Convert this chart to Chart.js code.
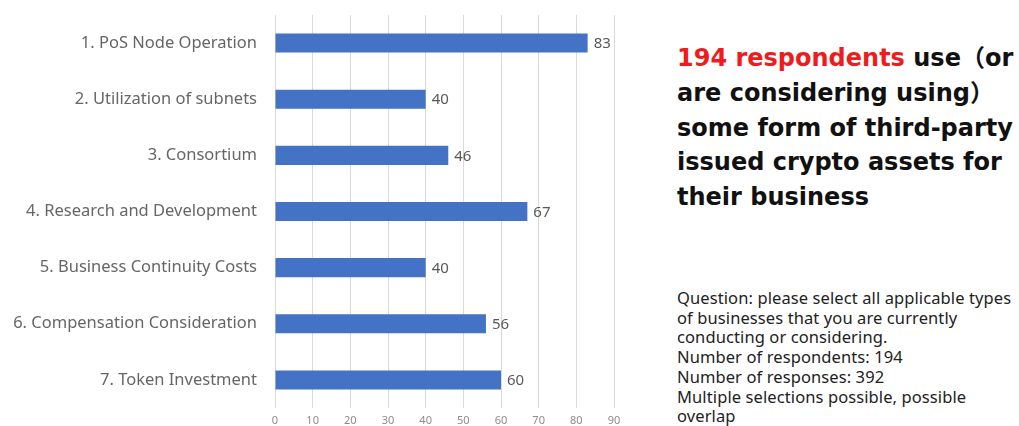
<!DOCTYPE html>
<html>
<head>
<meta charset="utf-8">
<script src="https://cdn.jsdelivr.net/npm/chart.js@4/dist/chart.umd.min.js"></script>
<style>
  html, body { margin: 0; padding: 0; background: #fff; }
  body { width: 1019px; height: 426px; position: relative; overflow: hidden; }
  #chartBox { position: absolute; left: 0; top: 0; width: 640px; height: 426px; }
  #headline {
    position: absolute; left: 677px; top: 41px; white-space: nowrap;
    font-family: "DejaVu Sans", "Noto Sans CJK JP", sans-serif; font-weight: 700;
    font-size: 24px; line-height: 34.8px; color: #111;
  }
  #headline .hl { color: #ee1c1c; }
  #note {
    position: absolute; left: 677px; top: 288px; white-space: nowrap;
    font-family: "Noto Sans", sans-serif; font-size: 16.5px; line-height: 19.7px;
    letter-spacing: 0.1px; color: #222;
  }
</style>
</head>
<body>
<div id="chartBox"><canvas id="bizChart"></canvas></div>
<div id="headline"><span class="hl">194 respondents</span> use（or<br>are considering using）<br>some form of third-party<br>issued crypto assets for<br>their business</div>
<div id="note">Question: please select all applicable types<br>of businesses that you are currently<br>conducting or considering.<br>Number of respondents: 194<br>Number of responses: 392<br>Multiple selections possible, possible<br>overlap</div>
<script>
const categories = [
  "1. PoS Node Operation",
  "2. Utilization of subnets",
  "3. Consortium",
  "4. Research and Development",
  "5. Business Continuity Costs",
  "6. Compensation Consideration",
  "7. Token Investment"
];
const responses = [83, 40, 46, 67, 40, 56, 60];
const xTicks = [0, 10, 20, 30, 40, 50, 60, 70, 80, 90];

// value labels at the end of each bar
const barValueLabels = {
  id: "barValueLabels",
  afterDatasetsDraw(chart) {
    const ctx = chart.ctx;
    const meta = chart.getDatasetMeta(0);
    ctx.save();
    ctx.font = "15px 'Noto Sans', sans-serif";
    ctx.fillStyle = "#595959";
    ctx.textAlign = "left";
    ctx.textBaseline = "middle";
    meta.data.forEach((bar, i) => {
      ctx.fillText(String(responses[i]), bar.x + 6, bar.y + 1);
    });
    ctx.restore();
  }
};

new Chart(document.getElementById("bizChart"), {
  type: "bar",
  data: {
    labels: categories,
    datasets: [{
      data: responses,
      backgroundColor: "#4472c4",
      borderWidth: 0,
      categoryPercentage: 1,
      barPercentage: 0.34
    }]
  },
  options: {
    indexAxis: "y",
    responsive: true,
    maintainAspectRatio: false,
    animation: false,
    layout: { padding: { top: 15, right: 26, left: 0, bottom: 0 } },
    plugins: {
      legend: { display: false },
      tooltip: { enabled: false }
    },
    scales: {
      x: {
        min: 0,
        max: 90,
        afterBuildTicks: (scale) => {
          scale.ticks = xTicks.map((v) => ({ value: v }));
        },
        afterFit: (scale) => { scale.height = 18; },
        grid: { color: "#d9d9d9", lineWidth: 1, drawTicks: false },
        border: { display: false },
        ticks: {
          color: "#8c8c8c",
          padding: 6,
          font: { size: 11, family: "'Noto Sans', sans-serif" }
        }
      },
      y: {
        // label padding would otherwise also pad the top and bottom of the plot
        afterFit: (scale) => {
          scale.width = 275;
          scale.paddingTop = 0;
          scale.paddingBottom = 0;
        },
        grid: { display: false, drawTicks: false },
        border: { display: false },
        ticks: {
          color: "#666666",
          padding: 18,
          font: { size: 16.5, family: "'Noto Sans', sans-serif" }
        }
      }
    }
  },
  plugins: [barValueLabels]
});
</script>
</body>
</html>
